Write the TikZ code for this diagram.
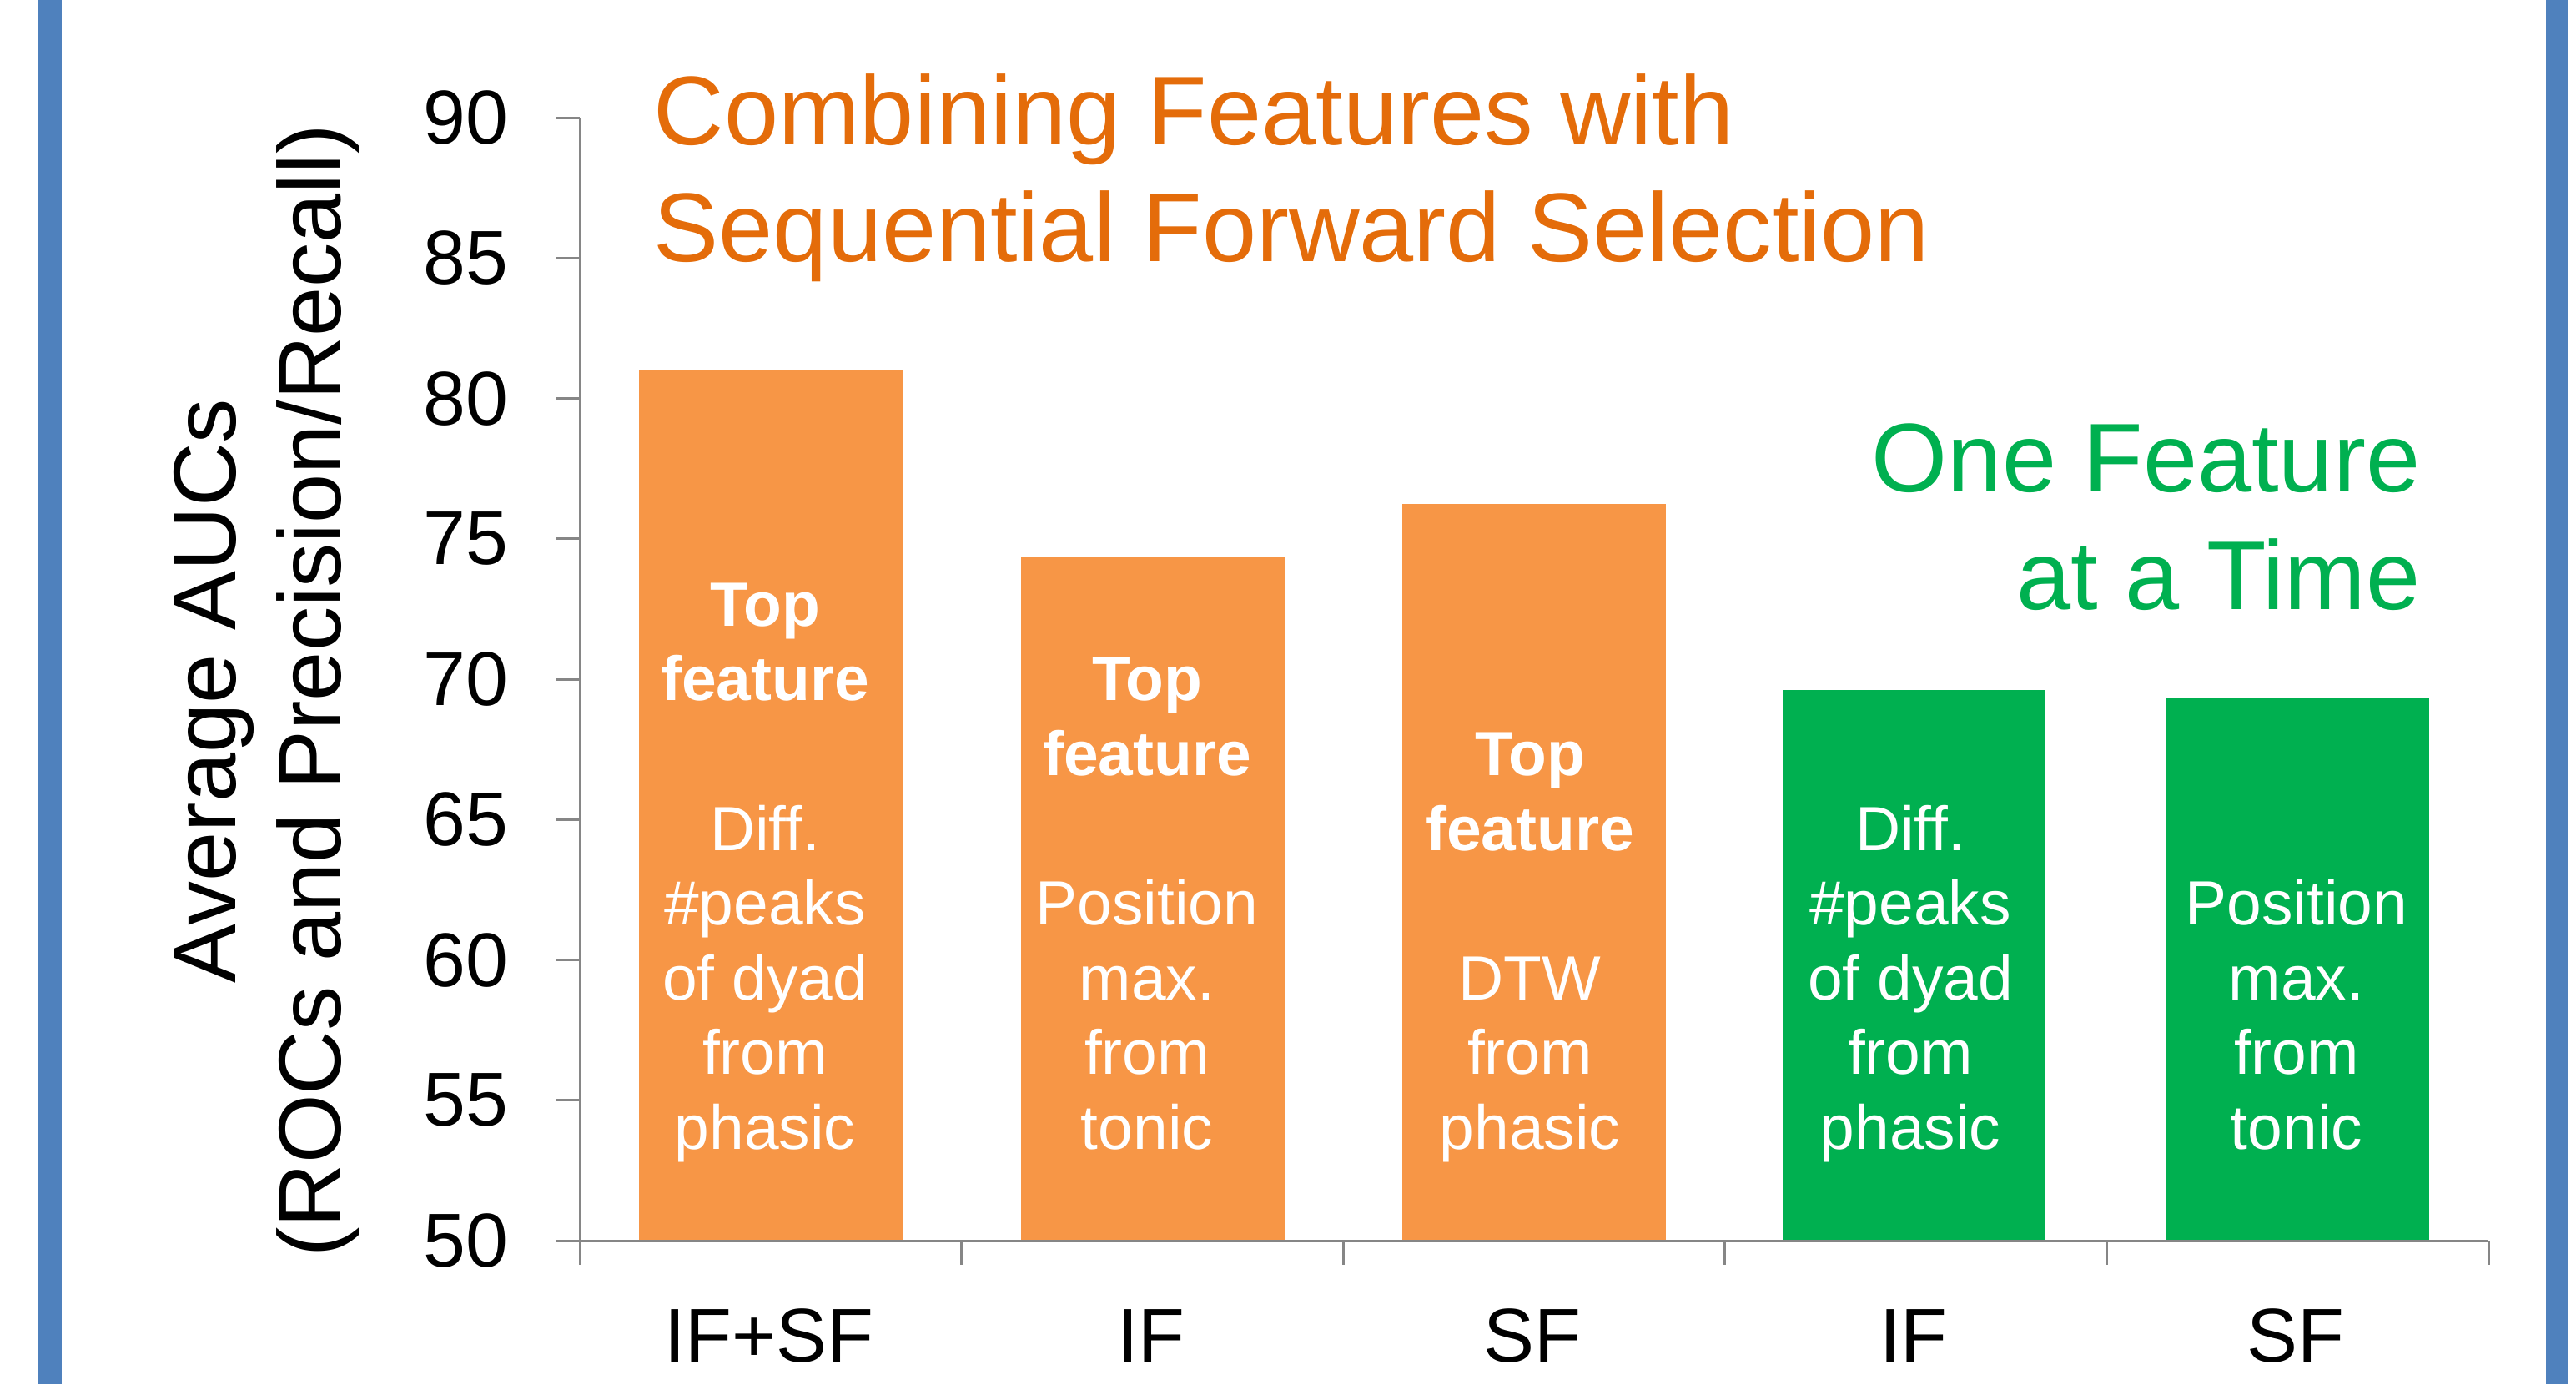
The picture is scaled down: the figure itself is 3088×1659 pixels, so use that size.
\documentclass[tikz,border=0pt]{standalone}
\usepackage{fontspec}
\setmainfont{Liberation Sans}
\definecolor{barorange}{HTML}{F79646}
\definecolor{titleorange}{HTML}{E46C0A}
\definecolor{bargreen}{HTML}{00B050}
\definecolor{frameblue}{HTML}{4F81BD}
\definecolor{axisgray}{HTML}{868686}
\begin{document}
\begin{tikzpicture}[x=0.01cm,y=-0.01cm,
  axisline/.style={draw=axisgray,line width=0.85pt},
  ticklab/.style={font=\fontsize{26}{31}\selectfont,anchor=east,inner sep=0},
  catlab/.style={font=\fontsize{26}{31}\selectfont,anchor=base,inner sep=0},
  ylab/.style={font=\fontsize{30.2}{36}\selectfont,anchor=base,rotate=90,inner sep=0},
  bigtitle/.style={font=\fontsize{33.3}{40}\selectfont,inner sep=0},
  bartxt/.style={font=\fontsize{21.3}{25.5}\selectfont,text=white,anchor=base,inner sep=0},
  bartop/.style={font=\fontsize{21.3}{25.5}\selectfont\bfseries,text=white,anchor=base,inner sep=0}]
\useasboundingbox (0,0) rectangle (3088,1659);
\fill[white] (0,0) rectangle (3088,1659);
% frame bars
\fill[frameblue] (46,0) rectangle (74,1659);
\fill[frameblue] (3052,0) rectangle (3079,1659);
% bars
\fill[barorange] (766,443) rectangle (1082,1487);
\fill[barorange] (1224,667) rectangle (1540,1487);
\fill[barorange] (1681,604) rectangle (1997,1487);
\fill[bargreen] (2137,827) rectangle (2452,1487);
\fill[bargreen] (2596,837) rectangle (2912,1487);
% axes
\draw[axisline] (695,141) -- (695,1516);
\draw[axisline] (666,1487) -- (2983,1487);
\foreach \v/\yy in {90/141,85/309.25,80/477.5,75/645.75,70/814,65/982.25,60/1150.5,55/1318.75,50/1487}{
  \draw[axisline] (666,\yy) -- (695,\yy);
  \node[ticklab] (tick\v) at (610,\yy) {\v};
}
\foreach \k in {1,2,3,4,5}{
  \draw[axisline] ({695+457.6*\k},1487) -- ({695+457.6*\k},1516);
}
% category labels
\node[catlab] (c1) at (922,1632) {IF+SF};
\node[catlab] (c2) at (1380,1632) {IF};
\node[catlab] (c3) at (1837,1632) {SF};
\node[catlab] (c4) at (2294,1632) {IF};
\node[catlab] (c5) at (2752,1632) {SF};
% y label
\node[ylab] (yl1) at (282,828) {Average AUCs};
\node[ylab] (yl2) at (408,828) {(ROCs and Precision/Recall)};
% titles
\node[bigtitle,text=titleorange,anchor=base west] (t1) at (783,173) {Combining Features with};
\node[bigtitle,text=titleorange,anchor=base west] (t2) at (783,313) {Sequential Forward Selection};
\node[bigtitle,text=bargreen,anchor=base east] (g1) at (2902,589) {One Feature};
\node[bigtitle,text=bargreen,anchor=base east] (g2) at (2902,730) {at a Time};
% bar 1 text
\node[bartop] (a1) at (917,750) {Top};
\node[bartop] (a2) at (917,839.8) {feature};
\node[bartxt] (a3) at (917,1019) {Diff.};
\node[bartxt] (a4) at (917,1108.6) {\#peaks};
\node[bartxt] (a5) at (917,1198.2) {of dyad};
\node[bartxt] (a6) at (917,1287.8) {from};
\node[bartxt] (a7) at (917,1377) {phasic};
% bar 2 text
\node[bartop] (b1) at (1375,839.8) {Top};
\node[bartop] (b2) at (1375,929.4) {feature};
\node[bartxt] (b3) at (1375,1108.6) {Position};
\node[bartxt] (b4) at (1375,1198.2) {max.};
\node[bartxt] (b5) at (1375,1287.8) {from};
\node[bartxt] (b6) at (1375,1377) {tonic};
% bar 3 text
\node[bartop] (d1) at (1834,929.4) {Top};
\node[bartop] (d2) at (1834,1019) {feature};
\node[bartxt] (d3) at (1834,1198.2) {DTW};
\node[bartxt] (d4) at (1834,1287.8) {from};
\node[bartxt] (d5) at (1834,1377) {phasic};
% bar 4 text
\node[bartxt] (e1) at (2290,1019) {Diff.};
\node[bartxt] (e2) at (2290,1108.6) {\#peaks};
\node[bartxt] (e3) at (2290,1198.2) {of dyad};
\node[bartxt] (e4) at (2290,1287.8) {from};
\node[bartxt] (e5) at (2290,1377) {phasic};
% bar 5 text
\node[bartxt] (f1) at (2753,1108.6) {Position};
\node[bartxt] (f2) at (2753,1198.2) {max.};
\node[bartxt] (f3) at (2753,1287.8) {from};
\node[bartxt] (f4) at (2753,1377) {tonic};
\end{tikzpicture}
\end{document}
